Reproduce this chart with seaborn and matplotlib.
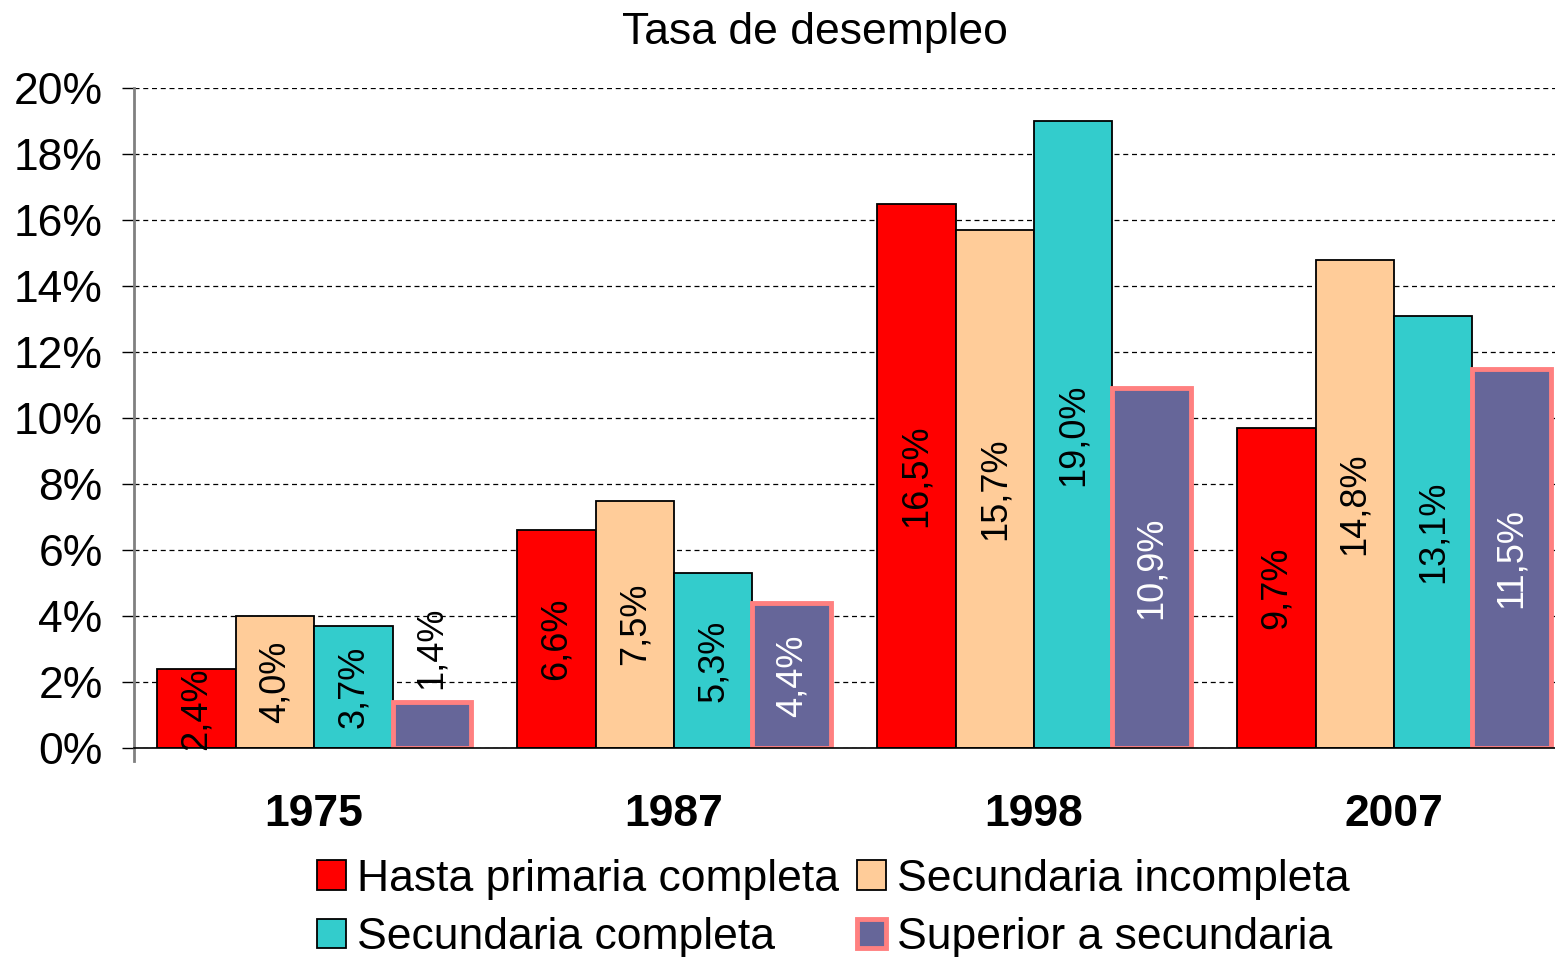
import numpy as np
import pandas as pd
import matplotlib
matplotlib.use("Agg")
import matplotlib.pyplot as plt
import seaborn as sns

years = ["1975", "1987", "1998", "2007"]
niveles = [
    "Hasta primaria completa",
    "Secundaria incompleta",
    "Secundaria completa",
    "Superior a secundaria",
]
hasta_primaria = [2.4, 6.6, 16.5, 9.7]
sec_incompleta = [4.0, 7.5, 15.7, 14.8]
sec_completa = [3.7, 5.3, 19.0, 13.1]
superior = [1.4, 4.4, 10.9, 11.5]
y_ticks = [0, 2, 4, 6, 8, 10, 12, 14, 16, 18, 20]

colores = ["#FF0000", "#FFCC99", "#33CCCC", "#666699"]
bordes = ["black", "black", "black", "#FF8080"]
texto_color = ["black", "black", "black", "white"]

series = [hasta_primaria, sec_incompleta, sec_completa, superior]
df = pd.DataFrame(
    [(y, n, v[i]) for n, v in zip(niveles, series) for i, y in enumerate(years)],
    columns=["year", "nivel", "tasa"],
)

sns.set_style("white")
plt.rcParams["font.family"] = ["Liberation Sans", "DejaVu Sans"]
plt.rcParams["text.color"] = "black"
plt.rcParams["xtick.color"] = "black"
plt.rcParams["ytick.color"] = "black"

fig = plt.figure(figsize=(15.55, 9.57), dpi=100)
ax = fig.add_axes([0.0862, 0.2184, 0.926, 0.6896])

sns.barplot(
    data=df, x="year", y="tasa", hue="nivel", hue_order=niveles, order=years,
    palette=colores, width=0.872, saturation=1, ax=ax, legend=False,
)

for k, cont in enumerate(ax.containers):
    for bar in cont:
        bar.set_edgecolor(bordes[k])
        bar.set_linewidth(3.5 if k == 3 else 1.3)
        h = bar.get_height()
        xc = bar.get_x() + bar.get_width() / 2
        txt = f"{h:.1f}%".replace(".", ",")
        if h < 2:
            ax.text(xc, h + 0.4, txt, rotation=90, ha="center", va="bottom",
                    fontsize=26, color="black")
        else:
            ax.text(xc, h / 2, txt, rotation=90, ha="center", va="center",
                    fontsize=26, color=texto_color[k])

ax.set_xlim(-0.5, 3.5)
ax.set_ylim(0, 20)
ax.set_yticks(y_ticks)
ax.set_yticklabels([f"{t}%" for t in y_ticks], fontsize=32)
ax.yaxis.grid(True, linestyle=(0, (4, 3)), color="black", linewidth=0.9)
ax.set_axisbelow(True)
ax.tick_params(axis="y", direction="out", length=8.6, width=1, color="black", pad=14, left=True)

ax.set_xticks(range(len(years)))
ax.set_xticklabels(years, fontsize=32, fontweight="bold")
ax.tick_params(axis="x", which="major", length=0, pad=33)
ax.set_xticks([-0.5, 0.5, 1.5, 2.5], minor=True)
ax.tick_params(axis="x", which="minor", direction="out", length=9, width=1, color="black")
ax.set_xlabel("")
ax.set_ylabel("")

for s in ["top", "right"]:
    ax.spines[s].set_visible(False)
ax.spines["bottom"].set_color("black")
ax.spines["bottom"].set_linewidth(1.2)
ax.spines["left"].set_color("#808080")
ax.spines["left"].set_linewidth(2)
ax.spines["left"].set_bounds(-0.4, 20)

fig.text(0.524, 0.966, "Tasa de desempleo", fontsize=32, ha="center", va="center")

handles = [
    plt.Rectangle((0, 0), 1, 1, facecolor=c, edgecolor=e, linewidth=3.5 if i == 3 else 1.3)
    for i, (c, e) in enumerate(zip(colores, bordes))
]
orden = [0, 2, 1, 3]
fig.legend(
    [handles[i] for i in orden], [niveles[i] for i in orden],
    loc="lower center", bbox_to_anchor=(0.536, -0.029), ncol=2, frameon=False,
    fontsize=32, handlelength=0.65, handleheight=0.65, handletextpad=0.25,
    columnspacing=0.4, labelspacing=0.39, borderaxespad=0.2,
)

fig.savefig("out.png", dpi=100)
